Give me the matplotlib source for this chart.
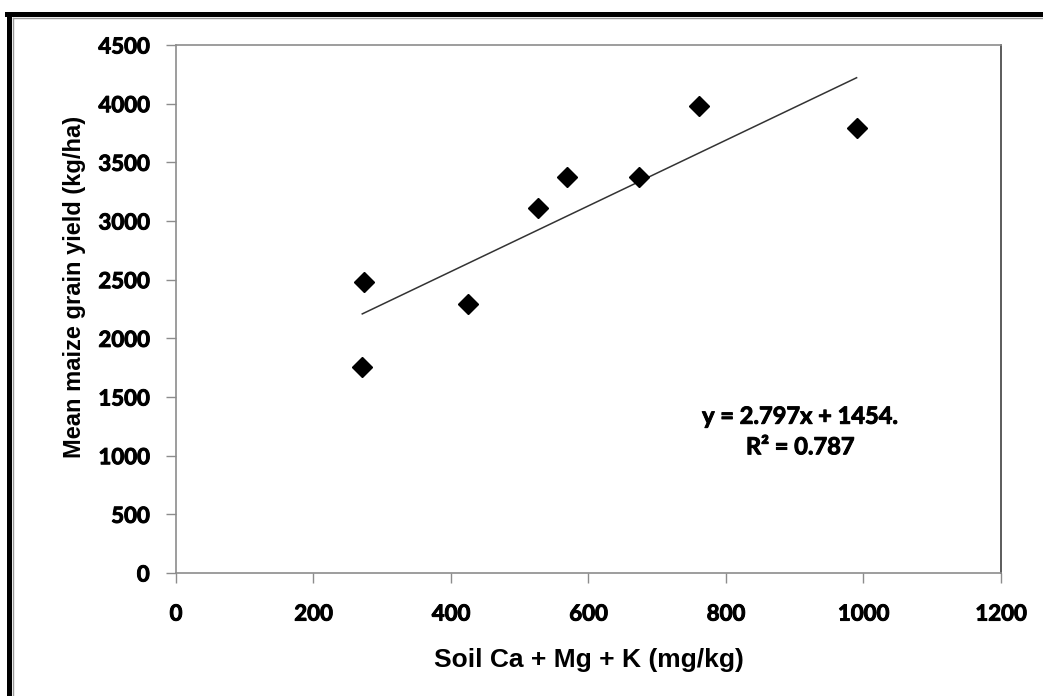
import numpy as np
import matplotlib
matplotlib.use('Agg')
import matplotlib.pyplot as plt
import matplotlib.patheffects as pe
from matplotlib.lines import Line2D
from matplotlib.font_manager import FontProperties

# Data
soil_cations = [271, 274, 425, 527, 569, 673, 761, 990]      # mg/kg
grain_yield = [1756, 2480, 2290, 3113, 3378, 3378, 3983, 3790]  # kg/ha

x_ticks = [0, 200, 400, 600, 800, 1000, 1200]
y_ticks = [0, 500, 1000, 1500, 2000, 2500, 3000, 3500, 4000, 4500]

equation_text = "y = 2.797x + 1454.\nR\u00b2 = 0.787"

fig = plt.figure(figsize=(10.43, 6.96), dpi=100)
ax = fig.add_axes([0.1687, 0.1767, 0.7910, 0.7586])

# slightly heavier strokes to mimic the chunky original text
heavy = [pe.withStroke(linewidth=0.7, foreground='black')]

# scatter points
ax.plot(soil_cations, grain_yield, linestyle='none', marker='D',
        markersize=10.5, color='black', markeredgecolor='black', zorder=3)

# linear trendline over the data range
slope, intercept = np.polyfit(soil_cations, grain_yield, 1)
xs = np.array([min(soil_cations), max(soil_cations)])
ax.plot(xs, slope * xs + intercept, color='#333333', linewidth=1.1, zorder=2)

ax.text(908, 1206, equation_text, ha='center', va='center',
        fontsize=17, fontweight='bold', family='Lato', linespacing=1.4,
        path_effects=heavy)

ax.set_xlim(0, 1200)
ax.set_ylim(0, 4500)
ax.set_xticks(x_ticks)
ax.set_yticks(y_ticks)

tick_font = FontProperties(family='Lato', weight='bold', size=16)
for lab in ax.get_xticklabels() + ax.get_yticklabels():
    lab.set_fontproperties(tick_font)
    lab.set_path_effects(heavy)

ax.tick_params(axis='both', direction='out', length=7, width=1,
               color='#8c8c8c', pad=12)
ax.tick_params(axis='x', pad=15)

for side in ['left', 'bottom', 'top']:
    ax.spines[side].set_color('#8c8c8c')
    ax.spines[side].set_linewidth(1.2)
ax.spines['right'].set_color('#404040')
ax.spines['right'].set_linewidth(1.2)

ax.set_xlabel('Soil Ca + Mg + K (mg/kg)', fontsize=19, fontweight='bold',
              family='Liberation Sans', labelpad=17)
ax.set_ylabel('Mean maize grain yield (kg/ha)', fontsize=17,
              fontweight='bold', family='Liberation Sans')
ax.yaxis.set_label_coords(-0.109, 0.542)

# outer frame (top and left edges only, as in the cropped original)
W, H = 1043, 696
fig.add_artist(Line2D([8.5 / W, 8.5 / W], [0, 1 - 14 / H],
                      transform=fig.transFigure, color='black', linewidth=3.6))
fig.add_artist(Line2D([7 / W, 1], [1 - 14 / H, 1 - 14 / H],
                      transform=fig.transFigure, color='black', linewidth=3.6))
fig.add_artist(Line2D([12.5 / W, 12.5 / W], [0, 1 - 17.5 / H],
                      transform=fig.transFigure, color='#9a9a9a', linewidth=1))
fig.add_artist(Line2D([12.5 / W, 1], [1 - 17.5 / H, 1 - 17.5 / H],
                      transform=fig.transFigure, color='#9a9a9a', linewidth=1))

fig.savefig('out.png', dpi=100)
